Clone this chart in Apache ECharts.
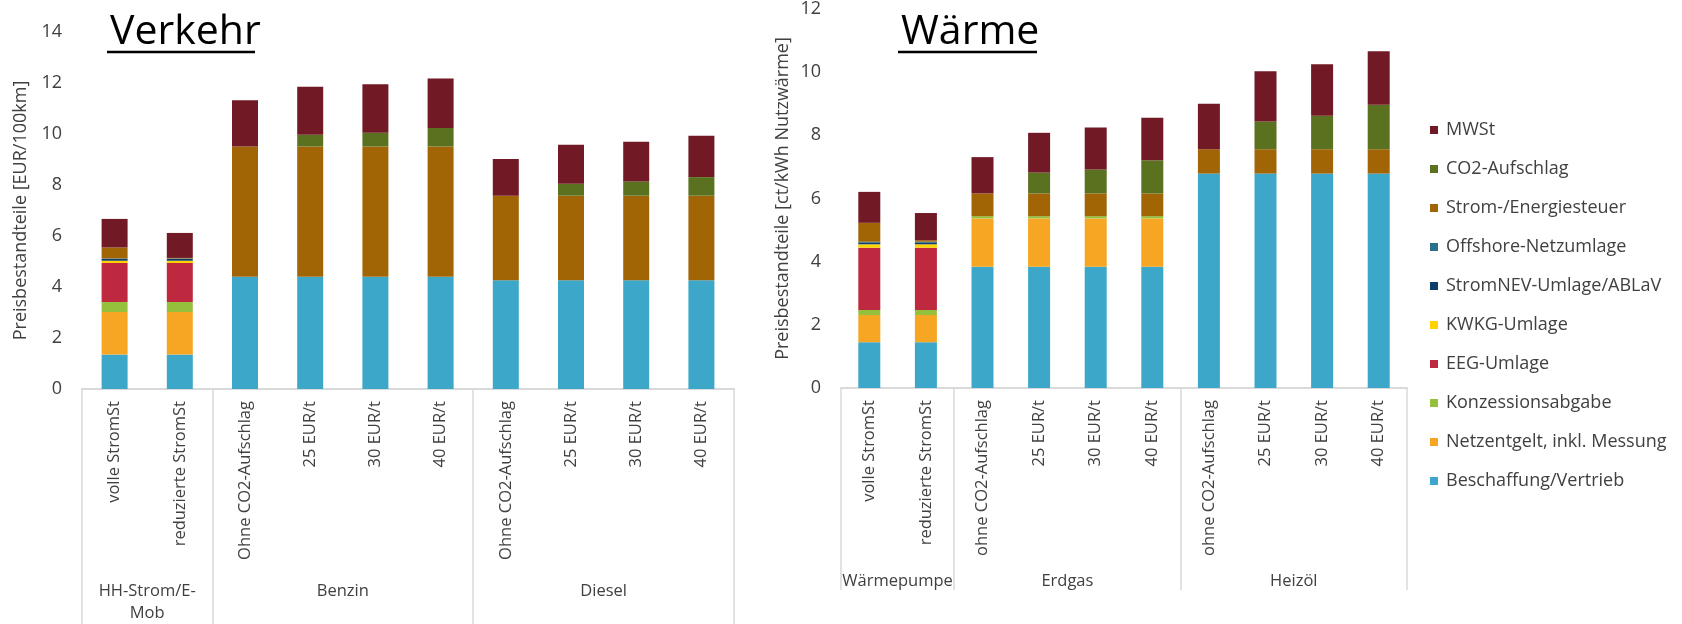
<!DOCTYPE html>
<html>
<head>
<meta charset="utf-8">
<script src="https://cdn.jsdelivr.net/npm/echarts@6/dist/echarts.min.js"></script>
<style>
  html, body { margin: 0; padding: 0; background: #fff; }
  #chart { width: 1682px; height: 624px; }
</style>
</head>
<body>
<div id="chart"></div>
<script>
// Price components, stacked bottom to top
const componentNames = [
  'Beschaffung/Vertrieb',
  'Netzentgelt, inkl. Messung',
  'Konzessionsabgabe',
  'EEG-Umlage',
  'KWKG-Umlage',
  'StromNEV-Umlage/ABLaV',
  'Offshore-Netzumlage',
  'Strom-/Energiesteuer',
  'CO2-Aufschlag',
  'MWSt'
];
const componentColors = [
  '#3CA7C9', '#F6A623', '#95C03B', '#BE2940', '#FFD200',
  '#0E3E6A', '#2C6F8A', '#A26506', '#5A711F', '#721926'
];

// Verkehr [EUR/100km]
const verkehrCategories = [
  'volle StromSt', 'reduzierte StromSt',
  'Ohne CO2-Aufschlag', '25 EUR/t', '30 EUR/t', '40 EUR/t',
  'Ohne CO2-Aufschlag', '25 EUR/t', '30 EUR/t', '40 EUR/t'
];
const verkehrGroups = ['HH-Strom/E-\nMob', 'Benzin', 'Diesel'];
const verkehrGroupSizes = [2, 4, 4];
const verkehrBeschaffung   = [1.35, 1.35, 4.40, 4.40, 4.40, 4.40, 4.26, 4.26, 4.26, 4.26];
const verkehrNetzentgelt   = [1.67, 1.67, 0, 0, 0, 0, 0, 0, 0, 0];
const verkehrKonzession    = [0.39, 0.39, 0, 0, 0, 0, 0, 0, 0, 0];
const verkehrEEG           = [1.53, 1.53, 0, 0, 0, 0, 0, 0, 0, 0];
const verkehrKWKG          = [0.09, 0.09, 0, 0, 0, 0, 0, 0, 0, 0];
const verkehrStromNEV      = [0.07, 0.07, 0, 0, 0, 0, 0, 0, 0, 0];
const verkehrOffshore      = [0.02, 0.02, 0, 0, 0, 0, 0, 0, 0, 0];
const verkehrSteuer        = [0.43, 0.02, 5.11, 5.11, 5.11, 5.11, 3.32, 3.32, 3.32, 3.32];
const verkehrCO2           = [0, 0, 0, 0.46, 0.54, 0.73, 0, 0.47, 0.56, 0.73];
const verkehrMWSt          = [1.12, 0.98, 1.81, 1.88, 1.90, 1.94, 1.44, 1.53, 1.56, 1.62];
const verkehrTicks = [0, 2, 4, 6, 8, 10, 12, 14];

// Wärme [ct/kWh Nutzwärme]
const waermeCategories = [
  'volle StromSt', 'reduzierte StromSt',
  'ohne CO2-Aufschlag', '25 EUR/t', '30 EUR/t', '40 EUR/t',
  'ohne CO2-Aufschlag', '25 EUR/t', '30 EUR/t', '40 EUR/t'
];
const waermeGroups = ['Wärmepumpe', 'Erdgas', 'Heizöl'];
const waermeGroupSizes = [2, 4, 4];
const waermeBeschaffung    = [1.45, 1.45, 3.84, 3.84, 3.84, 3.84, 6.79, 6.79, 6.79, 6.79];
const waermeNetzentgelt    = [0.86, 0.86, 1.53, 1.53, 1.53, 1.53, 0, 0, 0, 0];
const waermeKonzession     = [0.16, 0.16, 0.07, 0.07, 0.07, 0.07, 0, 0, 0, 0];
const waermeEEG            = [1.97, 1.97, 0, 0, 0, 0, 0, 0, 0, 0];
const waermeKWKG           = [0.11, 0.11, 0, 0, 0, 0, 0, 0, 0, 0];
const waermeStromNEV       = [0.06, 0.06, 0, 0, 0, 0, 0, 0, 0, 0];
const waermeOffshore       = [0.02, 0.02, 0, 0, 0, 0, 0, 0, 0, 0];
const waermeSteuer         = [0.60, 0.05, 0.72, 0.72, 0.72, 0.72, 0.77, 0.77, 0.77, 0.77];
const waermeCO2            = [0, 0, 0, 0.66, 0.76, 1.05, 0, 0.88, 1.06, 1.41];
const waermeMWSt           = [0.98, 0.86, 1.15, 1.26, 1.33, 1.35, 1.44, 1.59, 1.63, 1.69];
const waermeTicks = [0, 2, 4, 6, 8, 10, 12];

const verkehrSeries = [verkehrBeschaffung, verkehrNetzentgelt, verkehrKonzession, verkehrEEG,
  verkehrKWKG, verkehrStromNEV, verkehrOffshore, verkehrSteuer, verkehrCO2, verkehrMWSt];
const waermeSeries = [waermeBeschaffung, waermeNetzentgelt, waermeKonzession, waermeEEG,
  waermeKWKG, waermeStromNEV, waermeOffshore, waermeSteuer, waermeCO2, waermeMWSt];

const FONT = '"Open Sans"';
const TEXT = '#404040';
const LINE = '#d9d9d9';

// group boundaries and centres on a 0..n value scale laid over the category band
function groupLayout(sizes) {
  const bounds = [0];
  const centers = [];
  sizes.forEach(s => {
    const start = bounds[bounds.length - 1];
    centers.push(start + s / 2);
    bounds.push(start + s);
  });
  return { bounds, centers };
}
const vLayout = groupLayout(verkehrGroupSizes);
const wLayout = groupLayout(waermeGroupSizes);

function categoryAxis(gridIndex, data) {
  return {
    type: 'category', gridIndex, data,
    axisLine: { lineStyle: { color: LINE, width: 2 } },
    axisTick: { show: false },
    axisLabel: { interval: 0, rotate: 90, margin: 12, fontFamily: FONT, fontSize: 16.5, color: TEXT }
  };
}
function groupAxis(gridIndex, layout, names, tickLen, labelMargin) {
  return {
    type: 'value', gridIndex, min: 0, max: layout.bounds[layout.bounds.length - 1],
    position: 'bottom',
    axisLine: { show: false },
    splitLine: { show: false },
    axisTick: { show: true, customValues: layout.bounds, length: tickLen, lineStyle: { color: LINE, width: 1.5 } },
    axisLabel: {
      customValues: layout.centers, margin: labelMargin,
      fontFamily: FONT, fontSize: 16.5, color: TEXT, lineHeight: 22, align: 'center',
      formatter: v => names[layout.centers.indexOf(v)]
    }
  };
}
function valueAxis(gridIndex, ticks, name, nameGap) {
  return {
    type: 'value', gridIndex,
    min: ticks[0], max: ticks[ticks.length - 1], interval: ticks[1] - ticks[0],
    axisLine: { show: false }, axisTick: { show: false }, splitLine: { show: false },
    axisLabel: { margin: 20, fontFamily: FONT, fontSize: 18, color: TEXT },
    name, nameLocation: 'middle', nameGap, nameRotate: 90,
    nameTextStyle: { fontFamily: FONT, fontSize: 18, color: TEXT }
  };
}

const series = [];
componentNames.forEach((name, i) => {
  series.push({
    name, type: 'bar', stack: 'verkehr', xAxisIndex: 0, yAxisIndex: 0,
    barWidth: 26, itemStyle: { color: componentColors[i] },
    data: verkehrSeries[i]
  });
  series.push({
    name, type: 'bar', stack: 'waerme', xAxisIndex: 2, yAxisIndex: 1,
    barWidth: 22, itemStyle: { color: componentColors[i] },
    data: waermeSeries[i]
  });
});

const chart = echarts.init(document.getElementById('chart'), null, { renderer: 'canvas' });
chart.setOption({
  backgroundColor: '#ffffff',
  animation: false,
  title: [
    { text: 'Verkehr', left: 105, top: 7, textStyle: { fontFamily: FONT, fontSize: 41, fontWeight: 'normal', color: '#000' } },
    { text: 'Wärme', left: 896, top: 7, textStyle: { fontFamily: FONT, fontSize: 41, fontWeight: 'normal', color: '#000' } }
  ],
  graphic: [
    { type: 'line', shape: { x1: 107, y1: 52, x2: 255, y2: 52 }, style: { stroke: '#000', lineWidth: 2.5 } },
    { type: 'line', shape: { x1: 898, y1: 52, x2: 1037, y2: 52 }, style: { stroke: '#000', lineWidth: 2.5 } }
  ],
  legend: {
    orient: 'vertical', left: 1425, top: 116,
    data: componentNames.slice().reverse(),
    icon: 'rect', itemWidth: 8, itemHeight: 8, itemGap: 21,
    selectedMode: false,
    textStyle: { fontFamily: FONT, fontSize: 18, color: TEXT, padding: [0, 0, 0, 3] }
  },
  grid: [
    { left: 82, top: 32, width: 652, height: 357 },
    { left: 841, top: 8, width: 566, height: 380 }
  ],
  xAxis: [
    categoryAxis(0, verkehrCategories),
    groupAxis(0, vLayout, verkehrGroups, 240, 191),
    categoryAxis(1, waermeCategories),
    groupAxis(1, wLayout, waermeGroups, 202, 182)
  ],
  yAxis: [
    valueAxis(0, verkehrTicks, 'Preisbestandteile [EUR/100km]', 52),
    valueAxis(1, waermeTicks, 'Preisbestandteile [ct/kWh Nutzwärme]', 49)
  ],
  series
});
</script>
</body>
</html>
